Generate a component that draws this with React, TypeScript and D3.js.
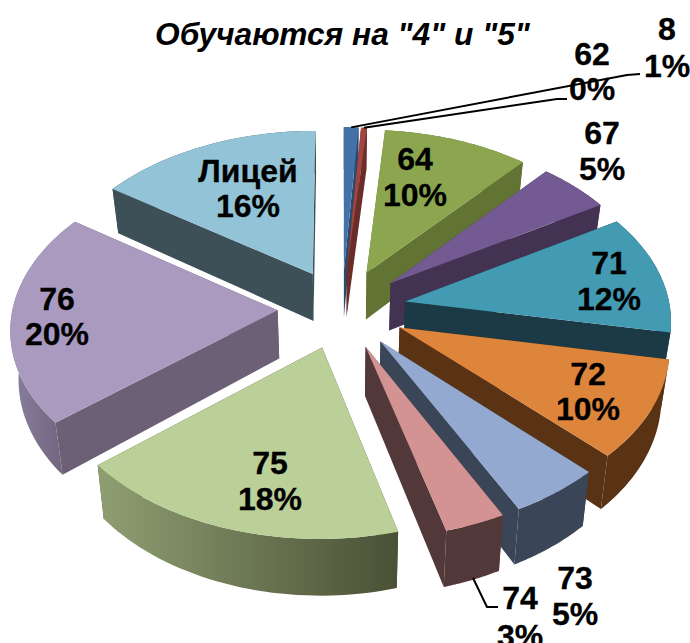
import React from "react";
import * as d3 from "d3";

const categories = ["8", "62", "64", "67", "71", "72", "73", "74", "75", "76", "Лицей"];
const values = [1, 0.4, 10, 5, 11.7, 9.6, 5, 3.3, 18.2, 20.8, 15.4];
const percentLabels = ["1%", "0%", "10%", "5%", "12%", "10%", "5%", "3%", "18%", "20%", "16%"];
const title = 'Обучаются на "4" и "5"';

const topColors = ["#4472a8", "#a04540", "#8ba64e", "#745a92", "#429bb3", "#de853c", "#93a9d0", "#d29392", "#bbd098", "#aa9ac0", "#92c3d7"];
const wallColors = ["#2b4a70", "#6b2d2a", "#617434", "#433252", "#1b3a46", "#5a3214", "#3a4558", "#523838", "#4a5035", "#6b6076", "#3d5058"];
const rimFrom = ["#2b4a70", "#6b2d2a", "#617434", "#433252", "#1b3a46", "#5a3314", "#3a4558", "#523838", "#8f9f72", "#8a7fa0", "#3d5058"];
const rimTo = ["#2b4a70", "#6b2d2a", "#617434", "#433252", "#1b3a46", "#5a3314", "#3a4558", "#523838", "#4a5035", "#6b6076", "#3d5058"];
const paintOrder = [10, 0, 1, 2, 3, 4, 9, 5, 6, 7, 8];
const labelX = [667, 592, 415, 602, 609, 588, 575, 520, 270, 57, 248];
const labelY = [28, 53, 158, 132, 262, 373, 577, 597, 462, 298, 170];
const labelGap = [37, 35, 36, 36, 36, 35, 36, 38, 36, 35, 35];

const W = 690, H = 643;
const EXPLODE = 0.243, PERSP = 0.1, DEPTH = 48, SHRINK = 0.025;
const sx = d3.scaleLinear().domain([-1, 1]).range([342 - 265, 342 + 265]);
const sy = d3.scaleLinear().domain([-1, 1]).range([308.6 - 164, 308.6 + 164]);

function project(gx: number, gy: number, z: number): [number, number] {
  const s = 1 / (1 - PERSP * gy);
  const k = 1 - SHRINK * z;
  const x0 = sx(0), y0 = sy(0);
  return [x0 + (sx(gx * s) - x0) * k, y0 + (sy(gy * s) - y0) * k + DEPTH * s * s * z];
}

const pieArcs = d3.pie<number>().sort(null).value((d) => d)(values);

function slicePoint(a: { startAngle: number; endAngle: number }, theta: number, r: number, z: number) {
  const mid = (a.startAngle + a.endAngle) / 2;
  const gx = EXPLODE * Math.sin(mid) + r * Math.sin(theta);
  const gy = -EXPLODE * Math.cos(mid) - r * Math.cos(theta);
  return project(gx, gy, z);
}

const line = d3.line();

export default function App() {
  const shapes = pieArcs.map((a) => {
    const thetas = d3.range(0, 41).map((i) => a.startAngle + ((a.endAngle - a.startAngle) * i) / 40);
    const topRim = thetas.map((t) => slicePoint(a, t, 1, 0));
    const lowRim = thetas.map((t) => slicePoint(a, t, 1, 1));
    const apex = slicePoint(a, 0, 0, 0);
    const apexLow = slicePoint(a, 0, 0, 1);
    const top = line([apex, ...topRim])! + "Z";
    const rim = line([...topRim, ...lowRim.slice().reverse()])! + "Z";
    const wallA = line([apex, topRim[0], lowRim[0], apexLow])! + "Z";
    const wallB = line([apex, topRim[40], lowRim[40], apexLow])! + "Z";
    const xs = topRim.map((p) => p[0]);
    return { top, rim, wallA, wallB, x1: d3.min(xs)!, x2: d3.max(xs)! };
  });

  const leader = (i: number, z: number, to: [number, number][]) => {
    const a = pieArcs[i];
    const start = slicePoint(a, (a.startAngle + a.endAngle) / 2, 1, z);
    return line([start, ...to])!;
  };

  const font = "'Liberation Sans', Arial, sans-serif";
  return (
    <svg width={W} height={H} viewBox={`0 0 ${W} ${H}`} style={{ position: "absolute", left: 0, top: 0, background: "#fff" }}>
      <defs>
        {shapes.map((s, i) => (
          <linearGradient key={i} id={`rim${i}`} gradientUnits="userSpaceOnUse" x1={s.x1} x2={s.x2} y1={0} y2={0}>
            <stop offset="0" stopColor={rimFrom[i]} />
            <stop offset="1" stopColor={rimTo[i]} />
          </linearGradient>
        ))}
      </defs>
      <text x={155} y={45} fontFamily={font} fontWeight="bold" fontStyle="italic" fontSize={31.7} fill="#000">{title}</text>
      {paintOrder.map((i) => (
        <g key={i}>
          <path d={shapes[i].wallA} fill={wallColors[i]} />
          <path d={shapes[i].wallB} fill={wallColors[i]} />
          <path d={shapes[i].rim} fill={`url(#rim${i})`} />
          <path d={shapes[i].top} fill={topColors[i]} />
        </g>
      ))}
      <g fill="none" stroke="#000" strokeWidth={2}>
        <path d={leader(0, 0, [[627, 75], [640, 74]])} />
        <path d={leader(1, 0, [[557, 99], [567, 99]])} />
        <path d={line([[473, 578], [487, 607], [498, 607]])!} />
      </g>
      <g fontFamily={font} fontWeight="bold" fontSize={32} textAnchor="middle" fill="#000" stroke="#000" strokeWidth={0.3}>
        {categories.map((c, i) => (
          <g key={c}>
            <text x={labelX[i]} y={labelY[i]} dy="0.36em">{c}</text>
            <text x={labelX[i]} y={labelY[i] + labelGap[i]} dy="0.36em">{percentLabels[i]}</text>
          </g>
        ))}
      </g>
    </svg>
  );
}
